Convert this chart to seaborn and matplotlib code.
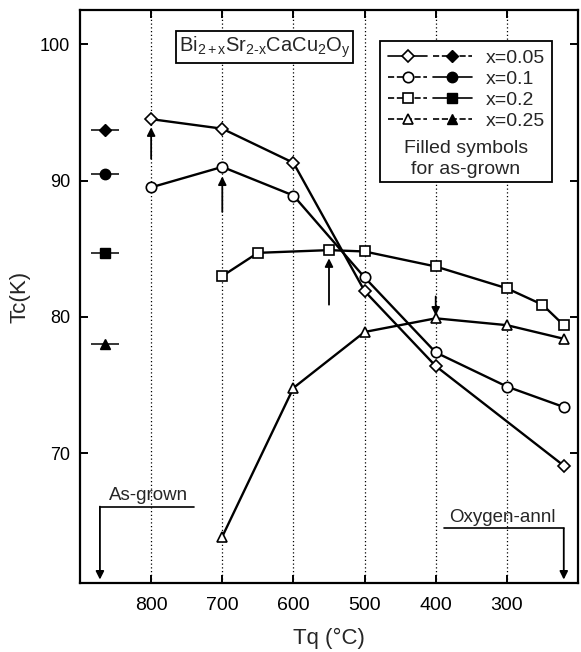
import numpy as np
import pandas as pd
import matplotlib
matplotlib.use("Agg")
import matplotlib.pyplot as plt
import seaborn as sns
from matplotlib.lines import Line2D
from matplotlib.legend_handler import HandlerTuple
from matplotlib.patches import Rectangle

# ---- data ----
tq_005 = [800, 700, 600, 500, 400, 220]
tc_005 = [94.5, 93.8, 91.3, 81.9, 76.4, 69.1]

tq_010 = [800, 700, 600, 500, 400, 300, 220]
tc_010 = [89.5, 91.0, 88.9, 82.9, 77.4, 74.9, 73.4]

tq_020 = [700, 650, 550, 500, 400, 300, 250, 220]
tc_020 = [83.0, 84.7, 84.9, 84.8, 83.7, 82.1, 80.9, 79.4]

tq_025 = [700, 600, 500, 400, 300, 220]
tc_025 = [63.9, 74.8, 78.9, 79.9, 79.4, 78.4]

asgrown_x = [865, 865, 865, 865]
asgrown_tc = [93.7, 90.5, 84.7, 78.0]

series_labels = ["x=0.05", "x=0.1", "x=0.2", "x=0.25"]
series_markers = ["D", "o", "s", "^"]

xticks = [800, 700, 600, 500, 400, 300]
yticks = [70, 80, 90, 100]

# ---- style ----
sns.set_theme(style="ticks")
plt.rcParams["font.family"] = ["Liberation Sans", "DejaVu Sans"]
plt.rcParams["mathtext.fontset"] = "custom"
plt.rcParams["mathtext.rm"] = "Liberation Sans"
plt.rcParams["mathtext.it"] = "Liberation Sans"

fig = plt.figure(figsize=(5.81, 6.52), dpi=100)
ax = fig.add_axes([80/581, 1-583/652, 498/581, 573/652])

for xv in xticks:
    ax.axvline(xv, color="black", lw=0.9, ls=(0, (1, 2)), zorder=0)

msizes = {"D": 6.5, "o": 7.5, "s": 7.5, "^": 7.5}
series = [(tq_005, tc_005), (tq_010, tc_010), (tq_020, tc_020), (tq_025, tc_025)]
for (xs, ys), mk, lab in zip(series, series_markers, series_labels):
    df = pd.DataFrame({"Tq": xs, "Tc": ys})
    sns.lineplot(data=df, x="Tq", y="Tc", ax=ax, color="black", lw=1.7,
                 marker=mk, markersize=msizes[mk], markerfacecolor="white",
                 markeredgecolor="black", markeredgewidth=1.2, zorder=3,
                 legend=False)

for xv, yv, mk in zip(asgrown_x, asgrown_tc, series_markers):
    ax.errorbar([xv], [yv], xerr=20, fmt=mk, color="black", ms=msizes[mk],
                elinewidth=1.1, capsize=0, zorder=3)

# arrows pointing at maxima
arr = dict(arrowstyle="-|>", color="black", lw=1.3, mutation_scale=12,
           shrinkA=0, shrinkB=0)
for x0, y0, y1 in [(800, 91.6, 93.9), (700, 87.7, 90.3), (550, 80.9, 84.3),
                   (400, 81.5, 80.1)]:
    ax.annotate("", xy=(x0, y1), xytext=(x0, y0), arrowprops=arr, zorder=4)

# As-grown / Oxygen-annl marks
ax.plot([872, 740], [66.1, 66.1], color="black", lw=1.2)
ax.annotate("", xy=(872, 60.75), xytext=(872, 66.1), arrowprops=arr)
ax.text(803, 66.3, "As-grown", ha="center", va="bottom", fontsize=13.5)
ax.plot([388, 220], [64.5, 64.5], color="black", lw=1.2)
ax.annotate("", xy=(220, 60.75), xytext=(220, 64.5), arrowprops=arr)
ax.text(306, 64.7, "Oxygen-annl", ha="center", va="bottom", fontsize=13.5)

# formula box
ax.text(0.3705, 0.9354,
        r"Bi$_{\mathregular{2+x}}$Sr$_{\mathregular{2\text{-}x}}$CaCu$_{\mathregular{2}}$O$_{\mathregular{y}}$",
        transform=ax.transAxes, ha="center", va="center", fontsize=14.5,
        bbox=dict(boxstyle="square,pad=0.15", fc="white", ec="black", lw=1.3),
        zorder=5)

# legend box
ax.add_patch(Rectangle((0.602, 0.700), 0.346, 0.246, transform=ax.transAxes,
                       fc="white", ec="black", lw=1.3, zorder=5))
handles = []
open_ls = ["-", "--", "--", "--"]
fill_ls = ["--", "-", "-", "--"]
for mk, ol, fl in zip(series_markers, open_ls, fill_ls):
    h_open = Line2D([], [], color="black", lw=1.2, ls=ol, marker=mk,
                    ms=msizes[mk], mfc="white", mec="black", mew=1.2)
    h_fill = Line2D([], [], color="black", lw=1.2, ls=fl, marker=mk,
                    ms=msizes[mk], mfc="black", mec="black")
    handles.append((h_open, h_fill))
leg = ax.legend(handles, series_labels, handler_map={tuple: HandlerTuple(ndivide=None, pad=0.3)},
                loc="upper left", bbox_to_anchor=(0.603, 0.945), frameon=False,
                fontsize=14, handlelength=4.3, handletextpad=0.75,
                labelspacing=0.18, borderaxespad=0.0, numpoints=1)
leg.set_zorder(6)
ax.text(0.775, 0.758, "Filled symbols", transform=ax.transAxes, ha="center",
        va="center", fontsize=14, zorder=6)
ax.text(0.775, 0.721, "for as-grown", transform=ax.transAxes, ha="center",
        va="center", fontsize=14, zorder=6)

ax.set_xlim(900, 200)
ax.set_ylim(60.5, 102.5)
ax.set_xticks(xticks)
ax.set_xticklabels([str(v) for v in xticks])
ax.set_yticks(yticks)
ax.set_yticklabels([str(v) for v in yticks])
ax.tick_params(direction="in", length=6, width=1.4, top=True, right=True,
               colors="black")
ax.tick_params(axis="x", pad=10, labelsize=14)
ax.tick_params(axis="y", pad=7, labelsize=13)
for s in ax.spines.values():
    s.set_linewidth(1.6)
    s.set_color("black")
ax.grid(False)
ax.set_xlabel("Tq (°C)", fontsize=16, labelpad=10)
ax.set_ylabel("Tc(K)", fontsize=16, labelpad=7)

fig.savefig("out.png", dpi=100, facecolor="white")
